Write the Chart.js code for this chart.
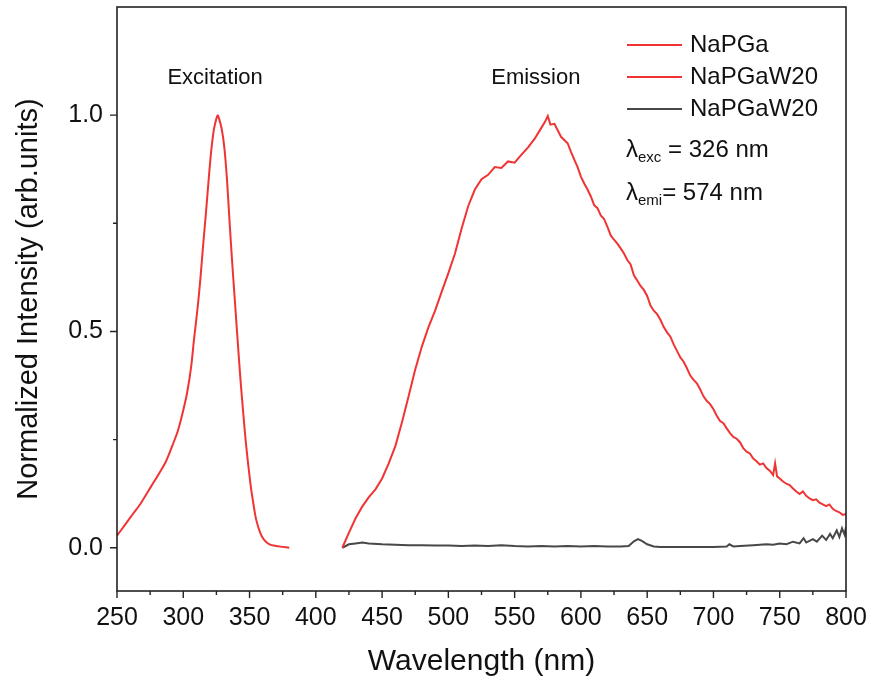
<!DOCTYPE html>
<html>
<head>
<meta charset="utf-8">
<script src="https://cdn.jsdelivr.net/npm/chart.js@4.4.1/dist/chart.umd.min.js"></script>
<style>
  html, body { margin: 0; padding: 0; background: #fff; }
  #wrap { width: 870px; height: 680px; position: relative; }
</style>
</head>
<body>
<div id="wrap"><canvas id="c" width="870" height="680"></canvas></div>
<script>
// ---- Data ----
const excX = [250, 256, 262, 268, 276, 282, 287, 292, 296, 300, 303, 306, 308, 311, 313, 315, 317, 319, 321, 323, 325, 326, 327, 329, 331, 333, 335, 337, 339, 341, 343, 345, 347, 349, 351, 353, 355, 358, 361, 365, 370, 375, 380];
const excY = [0.028, 0.053, 0.078, 0.103, 0.143, 0.173, 0.200, 0.238, 0.271, 0.318, 0.360, 0.420, 0.479, 0.560, 0.625, 0.700, 0.770, 0.845, 0.915, 0.965, 0.992, 1.000, 0.992, 0.968, 0.925, 0.850, 0.750, 0.655, 0.568, 0.480, 0.395, 0.320, 0.250, 0.192, 0.140, 0.100, 0.065, 0.035, 0.018, 0.008, 0.004, 0.002, 0.000];

const emiX = [420, 425, 430, 435, 440, 445, 450, 455, 460, 465, 470, 475, 480, 485, 490, 495, 500, 505, 510, 515, 520, 525, 530, 535, 540, 545, 550, 555, 560, 565, 570, 573, 575, 577, 580, 585,
  590, 592.5, 595, 597.5, 600, 602.5, 605, 607.5, 610, 612.5, 615, 617.5, 620, 622.5, 625, 627.5, 630, 632.5, 635, 637.5, 640, 642.5, 645, 647.5, 650, 652.5, 655, 657.5, 660, 662.5, 665, 667.5, 670, 672.5, 675, 677.5, 680, 682.5, 685, 687.5, 690, 692.5, 695, 697.5, 700,
  702.5, 705, 707.5, 710, 712.5, 715, 717.5, 720, 722.5, 725, 727.5, 730, 732.5, 735, 737.5, 740, 742.5, 745, 746.5, 748, 750, 752.5, 755, 757.5, 760, 762.5, 765, 767.5, 770, 772.5, 775, 777.5, 780, 782.5, 785, 787.5, 790, 792.5, 795, 797.5, 800];
const emiY = [0.000, 0.035, 0.068, 0.095, 0.117, 0.135, 0.160, 0.195, 0.235, 0.290, 0.350, 0.412, 0.465, 0.510, 0.548, 0.592, 0.635, 0.680, 0.738, 0.790, 0.828, 0.852, 0.862, 0.880, 0.878, 0.893, 0.890, 0.908, 0.925, 0.945, 0.970, 0.985, 0.998, 0.978, 0.980, 0.950,
  0.935, 0.915, 0.897, 0.880, 0.858, 0.842, 0.828, 0.812, 0.792, 0.785, 0.768, 0.760, 0.742, 0.722, 0.712, 0.703, 0.692, 0.680, 0.665, 0.655, 0.630, 0.618, 0.605, 0.596, 0.582, 0.560, 0.548, 0.540, 0.527, 0.510, 0.498, 0.488, 0.470, 0.455, 0.440, 0.430, 0.415, 0.398, 0.388, 0.380, 0.366, 0.350, 0.339, 0.332, 0.320,
  0.305, 0.293, 0.288, 0.276, 0.265, 0.256, 0.252, 0.244, 0.230, 0.222, 0.218, 0.206, 0.200, 0.192, 0.195, 0.184, 0.178, 0.168, 0.195, 0.165, 0.160, 0.153, 0.148, 0.145, 0.137, 0.130, 0.124, 0.130, 0.120, 0.114, 0.110, 0.112, 0.104, 0.100, 0.096, 0.100, 0.090, 0.085, 0.082, 0.076, 0.078];

const refX = [420, 425, 430, 435, 440, 450, 460, 470, 480, 490, 500, 510, 520, 530, 540, 550, 560, 570, 580, 590, 600, 610, 620, 630, 636, 640, 643, 646, 650, 655, 660, 670, 680, 690, 700, 710, 712, 715, 720, 730, 740, 745, 750, 755, 760, 765, 768, 770, 775, 778, 782, 785, 788, 790, 793, 795, 797, 799, 800];
const refY = [0.000, 0.008, 0.010, 0.012, 0.010, 0.008, 0.007, 0.006, 0.006, 0.005, 0.005, 0.004, 0.005, 0.004, 0.006, 0.004, 0.003, 0.004, 0.003, 0.004, 0.003, 0.004, 0.003, 0.003, 0.004, 0.015, 0.020, 0.016, 0.008, 0.003, 0.002, 0.002, 0.002, 0.002, 0.002, 0.003, 0.008, 0.003, 0.004, 0.006, 0.008, 0.007, 0.010, 0.008, 0.014, 0.010, 0.022, 0.012, 0.020, 0.014, 0.028, 0.018, 0.032, 0.022, 0.040, 0.025, 0.045, 0.030, 0.048];

const seriesNames = ['NaPGa', 'NaPGaW20', 'NaPGaW20'];
const xTickValues = [250, 300, 350, 400, 450, 500, 550, 600, 650, 700, 750, 800];
const yTickValues = [0.0, 0.5, 1.0];
const xMinorValues = [275, 325, 375, 425, 475, 525, 575, 625, 675, 725, 775];
const yMinorValues = [0.25, 0.75];
const peakLabels = ['Excitation', 'Emission'];
const lambdaExc = 326;
const lambdaEmi = 574;

// ---- Styles ----
const RED = 'rgb(240,52,52)';
const GRAY = 'rgb(72,72,72)';
const FONT = '"Liberation Sans", Arial, sans-serif';

function pts(xs, ys) { return xs.map((x, i) => ({ x: x, y: ys[i] })); }

const frame = {
  id: 'frame',
  afterDraw(chart) {
    const ctx = chart.ctx, a = chart.chartArea;
    const xs = chart.scales.x, ys = chart.scales.y;
    ctx.save();
    ctx.strokeStyle = '#222';
    ctx.lineWidth = 1.6;
    ctx.strokeRect(a.left, a.top, a.right - a.left, a.bottom - a.top);
    // ticks
    ctx.lineWidth = 1.4;
    ctx.beginPath();
    xTickValues.forEach(v => { const p = xs.getPixelForValue(v); ctx.moveTo(p, a.bottom); ctx.lineTo(p, a.bottom + 7); });
    xMinorValues.forEach(v => { const p = xs.getPixelForValue(v); ctx.moveTo(p, a.bottom); ctx.lineTo(p, a.bottom + 4); });
    yTickValues.forEach(v => { const p = ys.getPixelForValue(v); ctx.moveTo(a.left, p); ctx.lineTo(a.left - 7, p); });
    yMinorValues.forEach(v => { const p = ys.getPixelForValue(v); ctx.moveTo(a.left, p); ctx.lineTo(a.left - 4, p); });
    ctx.stroke();

    // peak labels
    ctx.fillStyle = '#111';
    ctx.font = '22px ' + FONT;
    ctx.textAlign = 'center';
    ctx.textBaseline = 'middle';
    ctx.fillText(peakLabels[0], xs.getPixelForValue(324), ys.getPixelForValue(1.085));
    ctx.fillText(peakLabels[1], xs.getPixelForValue(566), ys.getPixelForValue(1.085));

    // legend
    const lx0 = a.right - 219, lx1 = a.right - 164, tx = a.right - 156;
    const colors = [RED, RED, GRAY];
    ctx.textAlign = 'left';
    ctx.font = '24px ' + FONT;
    seriesNames.forEach((n, i) => {
      const y = a.top + 38 + i * 32;
      ctx.strokeStyle = colors[i];
      ctx.lineWidth = 2;
      ctx.beginPath(); ctx.moveTo(lx0, y); ctx.lineTo(lx1, y); ctx.stroke();
      ctx.fillStyle = '#111';
      ctx.fillText(n, tx, y);
    });
    // lambda lines
    function lam(sub, rest, y) {
      let x = lx0 - 1;
      ctx.font = '24px ' + FONT;
      ctx.fillText('λ', x, y);
      x += ctx.measureText('λ').width;
      ctx.font = '15px ' + FONT;
      ctx.fillText(sub, x, y + 8);
      x += ctx.measureText(sub).width;
      ctx.font = '24px ' + FONT;
      ctx.fillText(rest, x, y);
    }
    lam('exc', ' = ' + lambdaExc + ' nm', a.top + 143);
    lam('emi', '= ' + lambdaEmi + ' nm', a.top + 186);
    ctx.restore();
  }
};

new Chart(document.getElementById('c'), {
  type: 'line',
  data: {
    datasets: [
      { label: seriesNames[0], data: pts(excX, excY), borderColor: RED, borderWidth: 2, pointRadius: 0, tension: 0.3 },
      { label: seriesNames[1], data: pts(emiX, emiY), borderColor: RED, borderWidth: 2, pointRadius: 0, tension: 0 },
      { label: seriesNames[2], data: pts(refX, refY), borderColor: GRAY, borderWidth: 2, pointRadius: 0, tension: 0 }
    ]
  },
  options: {
    responsive: false,
    animation: false,
    layout: { padding: { top: 7, right: 24, left: 0, bottom: 0 } },
    plugins: { legend: { display: false }, tooltip: { enabled: false } },
    scales: {
      x: {
        type: 'linear', min: 250, max: 800,
        afterBuildTicks: s => { s.ticks = xTickValues.map(v => ({ value: v })); },
        afterFit: s => { s.height = 89; s.paddingLeft = 0; s.paddingRight = 0; },
        grid: { display: false },
        border: { display: false },
        ticks: { color: '#111', font: { family: FONT, size: 25 }, padding: 4, maxRotation: 0, callback: v => String(v) },
        title: { display: true, text: 'Wavelength (nm)', color: '#111', font: { family: FONT, size: 30 }, padding: { top: 0, bottom: 0 } }
      },
      y: {
        type: 'linear', min: -0.1, max: 1.25,
        afterBuildTicks: s => { s.ticks = yTickValues.map(v => ({ value: v })); },
        afterFit: s => { s.width = 117; s.paddingTop = 0; s.paddingBottom = 0; },
        grid: { display: false },
        border: { display: false },
        ticks: { color: '#111', font: { family: FONT, size: 25 }, padding: 6, callback: v => Number(v).toFixed(1) },
        title: { display: true, text: 'Normalized Intensity (arb.units)', color: '#111', font: { family: FONT, size: 29 }, padding: { top: 12, bottom: 0 } }
      }
    }
  },
  plugins: [frame]
});
</script>
</body>
</html>
